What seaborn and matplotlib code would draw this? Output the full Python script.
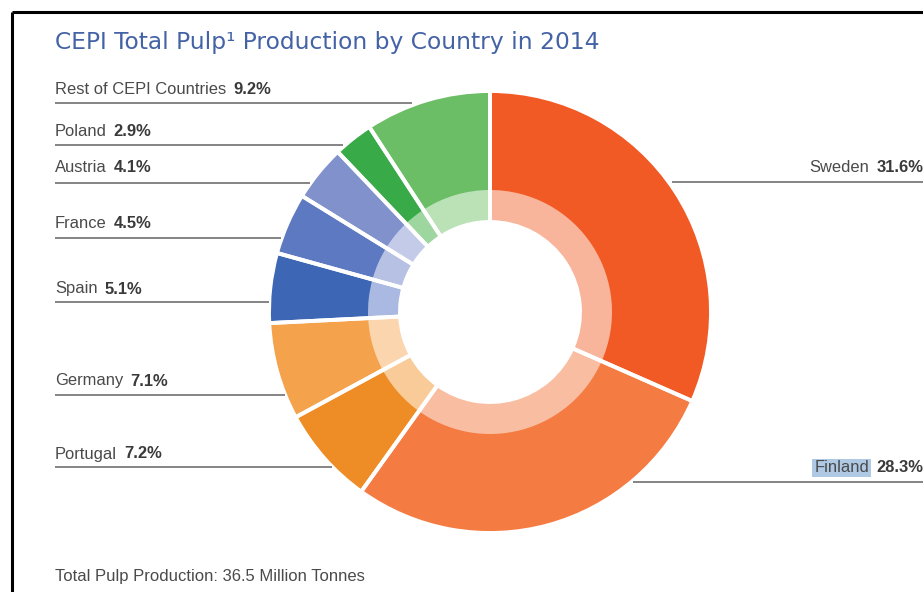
import numpy as np
import matplotlib
matplotlib.use("Agg")
import matplotlib.pyplot as plt
import seaborn as sns

countries = ["Sweden", "Finland", "Portugal", "Germany", "Spain",
             "France", "Austria", "Poland", "Rest of CEPI Countries"]
shares = [31.6, 28.3, 7.2, 7.1, 5.1, 4.5, 4.1, 2.9, 9.2]
outer_colors = ["#F15A24", "#F47B42", "#EE8C25", "#F4A24C", "#3D67B4",
                "#5D79C2", "#8191CC", "#38AA47", "#6CBE66"]
inner_colors = ["#F9B59B", "#F9BEA2", "#F8CB98", "#FAD5AE", "#A9B9E1",
                "#B6C1E4", "#C4CBE8", "#9ED6A0", "#BBE2B7"]
total_note = "Total Pulp Production: 36.5 Million Tonnes"
title = "CEPI Total Pulp\u00b9 Production by Country in 2014"

sns.set_theme(style="white")
plt.rcParams['font.family'] = ['Liberation Sans', 'DejaVu Sans']

W, H = 923, 592
fig = plt.figure(figsize=(W / 100, H / 100), dpi=100)
ax = fig.add_axes([0, 0, 1, 1])

def py(y):
    # pixel row (from top) -> data y
    return H - y

cx, cy = 490, py(312)
r_out, r_mid, r_in = 220, 122, 90

ax.pie(shares, colors=outer_colors, startangle=90, counterclock=False,
       center=(cx, cy), radius=r_out,
       wedgeprops=dict(width=r_out - r_in, linewidth=0))
ax.pie(shares, colors=inner_colors, startangle=90, counterclock=False,
       center=(cx, cy), radius=r_mid,
       wedgeprops=dict(width=r_mid - r_in, linewidth=0))
ax.pie(shares, colors=["none"] * len(shares), startangle=90, counterclock=False,
       center=(cx, cy), radius=r_out + 1,
       wedgeprops=dict(width=r_out + 1 - r_in, linewidth=2.8, edgecolor="white"))

ax.set_xlim(0, W)
ax.set_ylim(0, H)
ax.set_aspect("auto")
ax.axis("off")

# label layout: text y, line y, line x start, line x end, side
layout = {
    "Rest of CEPI Countries": (89, 103, 55, 412, "left"),
    "Poland": (132, 145, 55, 343, "left"),
    "Austria": (168, 183, 55, 310, "left"),
    "France": (223, 238, 55, 281, "left"),
    "Spain": (289, 302, 55, 269, "left"),
    "Germany": (381, 395, 55, 285, "left"),
    "Portugal": (454, 467, 55, 332, "left"),
    "Sweden": (168, 182, 672, 923, "right"),
    "Finland": (468, 482, 633, 923, "right"),
}

txt_color = "#4a4a4a"
fs = 11.9
fig.canvas.draw()
renderer = fig.canvas.get_renderer()
for name, val in zip(countries, shares):
    ty, ly, x0, x1, side = layout[name]
    ax.plot([x0, x1], [py(ly), py(ly)], color="#707070", lw=1.2,
            solid_capstyle="butt")
    pct = f"{val:.1f}%"
    if side == "left":
        t = ax.text(55, py(ty), name, fontsize=fs, color=txt_color,
                    ha="left", va="center")
        bb = t.get_window_extent(renderer)
        ax.text(bb.x1 + 7, py(ty), pct, fontsize=fs, color="#3a3a3a",
                fontweight="bold", ha="left", va="center")
    else:
        p = ax.text(923, py(ty), pct, fontsize=fs, color="#3a3a3a",
                    fontweight="bold", ha="right", va="center")
        bb = p.get_window_extent(renderer)
        kw = {}
        if name == "Finland":
            kw["bbox"] = dict(boxstyle="square,pad=0.12", facecolor="#AFC8E4",
                              edgecolor="none")
        ax.text(bb.x0 - 7, py(ty), name, fontsize=fs, color=txt_color,
                ha="right", va="center", **kw)

ax.text(55, py(42), title, fontsize=16.8, color="#4463A6", ha="left",
        va="center", family=["DejaVu Sans"])
ax.text(55, py(577), total_note, fontsize=12, color=txt_color,
        ha="left", va="center")

# frame of the page
ax.plot([12, 12], [py(12), 0], color="black", lw=2.2, solid_capstyle="butt")
ax.plot([12, W], [py(12), py(12)], color="black", lw=2.2, solid_capstyle="butt")

fig.savefig("out.png", dpi=100, facecolor="white")
